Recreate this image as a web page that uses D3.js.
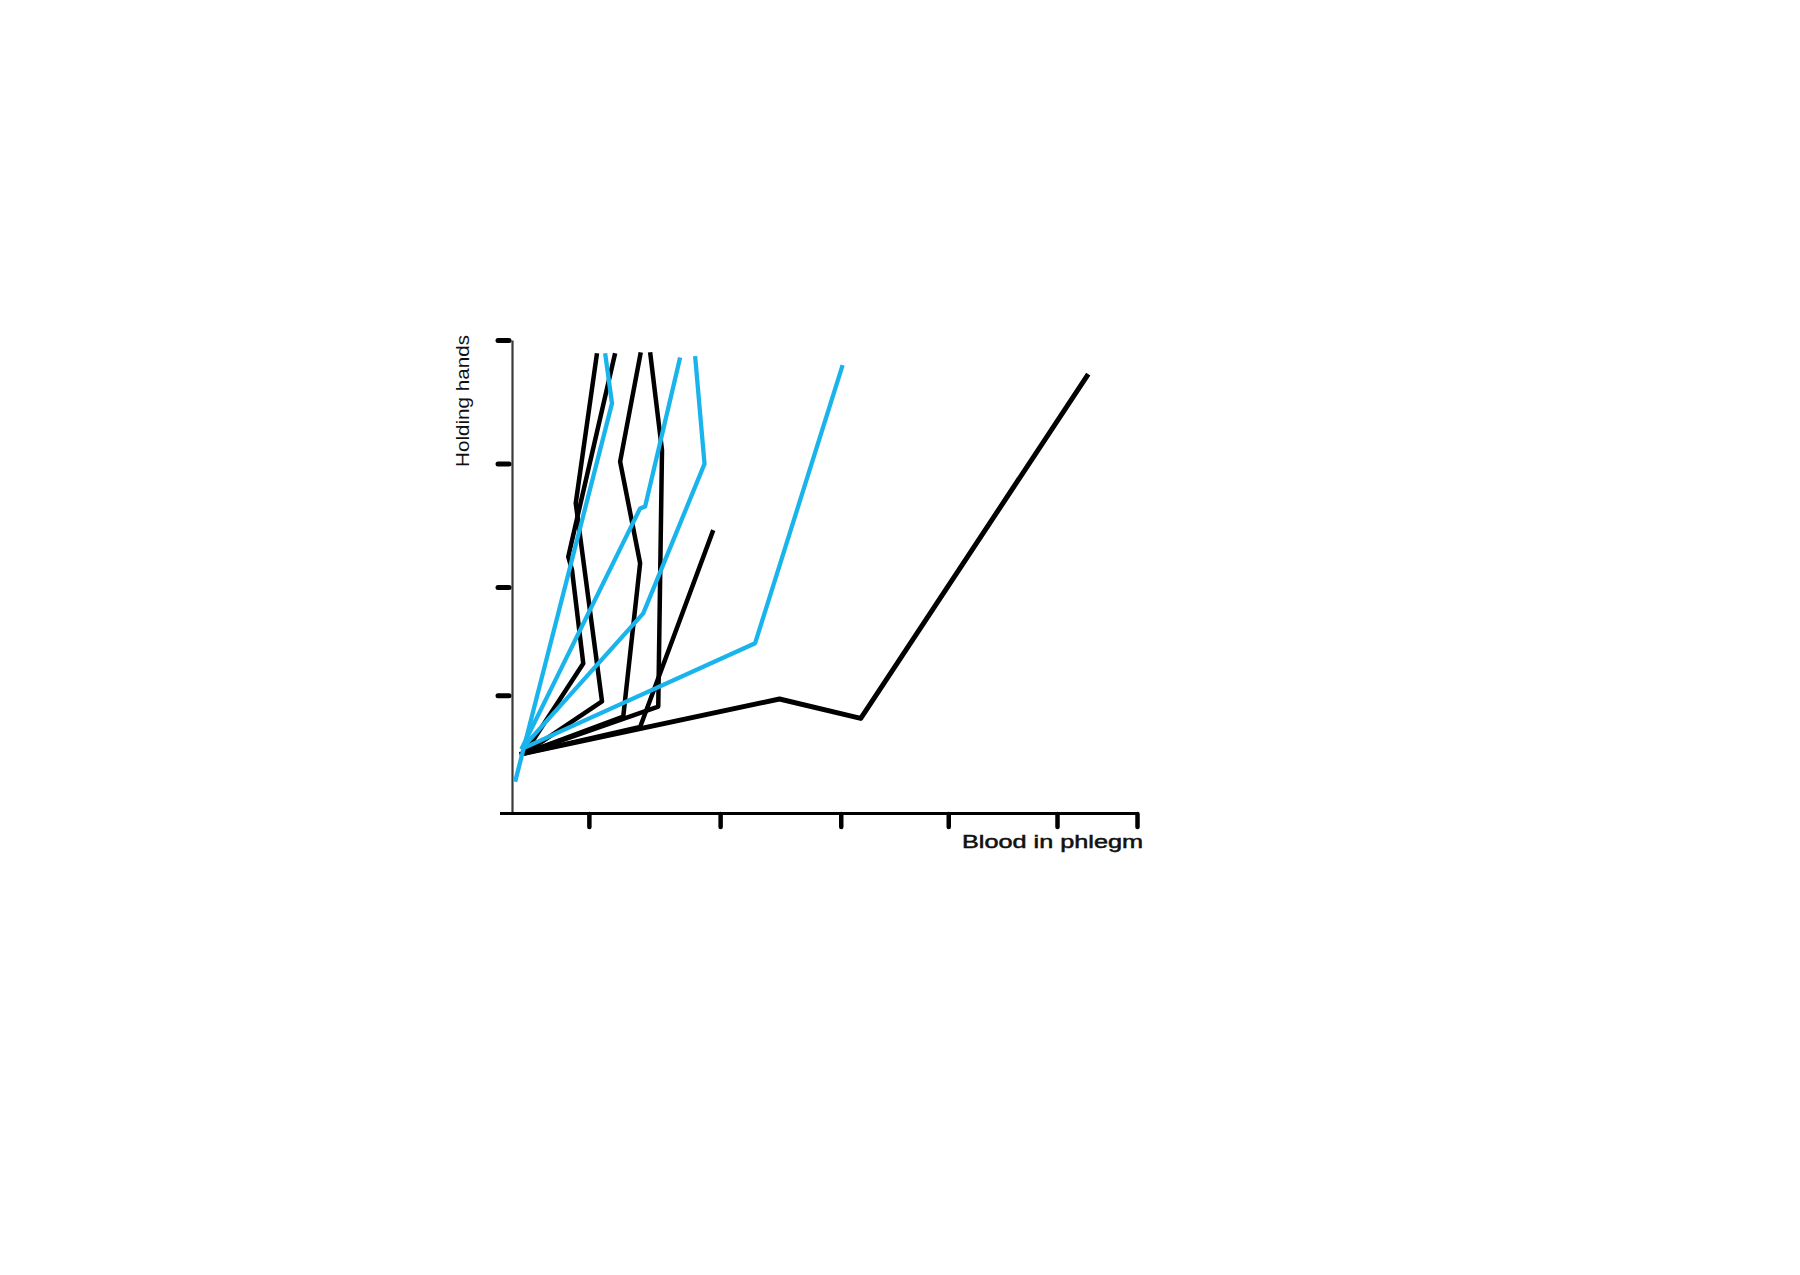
<!DOCTYPE html>
<html>
<head>
<meta charset="utf-8">
<script src="https://cdn.jsdelivr.net/npm/d3@7"></script>
<style>
  body { margin: 0; background: #fff; }
  svg { display: block; }
  text { font-family: "Liberation Sans", Arial, sans-serif; fill: #111; }
</style>
</head>
<body>
<svg width="1800" height="1275"></svg>
<script>
// tick positions (no labels on the original)
var xTicks = [1.23, 3.33, 5.26, 6.98, 8.72, 10];
var yTicks = [2.49, 4.78, 7.39, 10];

// black series
var black1 = [[0.2, 1.26], [1.44, 2.36], [1.02, 6.55], [1.36, 9.72]];
var black2 = [[0.2, 1.26], [1.14, 3.16], [0.96, 5.14], [0.90, 5.42], [1.65, 9.72]];
var black3 = [[0.2, 1.26], [1.78, 2.04], [2.05, 5.28], [1.73, 7.43], [2.06, 9.74]];
var black4 = [[0.2, 1.26], [2.34, 2.25], [2.40, 7.67], [2.21, 9.74]];
var black5 = [[0.2, 1.26], [2.05, 1.82], [3.22, 5.98]];
var black6 = [[0.12, 1.24], [4.28, 2.41], [5.58, 2.00], [9.22, 9.28]];

// blue series
var blue1 = [[0.05, 0.66], [1.60, 8.66], [1.49, 9.72]];
var blue2 = [[0.15, 1.35], [2.05, 6.44], [2.13, 6.48], [2.69, 9.63]];
var blue3 = [[0.15, 1.35], [2.10, 4.22], [3.08, 7.38], [2.93, 9.66]];
var blue4 = [[0.15, 1.35], [3.89, 3.59], [5.29, 9.47]];

var blackLines = [black1, black2, black3, black4, black5, black6];
var blueLines = [blue1, blue2, blue3, blue4];

var svg = d3.select("svg");

var x = d3.scaleLinear().domain([-0.2, 10]).range([499.5, 1137]);
var y = d3.scaleLinear().domain([0, 10]).range([813, 340]);

var line = d3.line()
  .x(function(d) { return x(d[0]); })
  .y(function(d) { return y(d[1]); });

// y axis: thin grey line, short fat dashes for ticks
var yAxis = svg.append("g")
  .attr("transform", "translate(" + x(0) + ",0)")
  .call(d3.axisLeft(y).tickValues(yTicks).tickSize(14).tickSizeOuter(0).tickFormat(""));
yAxis.select(".domain")
  .attr("stroke", "#3a3a3a")
  .attr("stroke-width", 2.2);
yAxis.selectAll(".tick line")
  .attr("stroke", "#000")
  .attr("stroke-width", 5)
  .attr("stroke-linecap", "round")
  .attr("x1", -3);

// x axis
var xAxis = svg.append("g")
  .attr("transform", "translate(0," + y(0) + ")")
  .call(d3.axisBottom(x).tickValues(xTicks).tickSize(14).tickSizeOuter(0).tickFormat(""));
xAxis.select(".domain")
  .attr("stroke", "#000")
  .attr("stroke-width", 3);
xAxis.selectAll(".tick line")
  .attr("stroke", "#000")
  .attr("stroke-width", 4.5)
  .attr("stroke-linecap", "round")
  .attr("y1", 1);

// the lines, black under blue
svg.append("g").selectAll("path")
  .data(blackLines)
  .enter()
  .append("path")
  .attr("fill", "none")
  .attr("stroke", "#000")
  .attr("stroke-width", function(d, i) { return i == 5 ? 5 : 4.5; })
  .attr("stroke-linejoin", "round")
  .attr("d", line);

svg.append("g").selectAll("path")
  .data(blueLines)
  .enter()
  .append("path")
  .attr("fill", "none")
  .attr("stroke", "#1ab4ec")
  .attr("stroke-width", 4.3)
  .attr("stroke-linejoin", "round")
  .attr("d", line);

// axis titles
svg.append("text")
  .attr("transform", "translate(469,401) rotate(-90)")
  .style("text-anchor", "middle")
  .style("font-size", "18px")
  .attr("textLength", 132)
  .attr("lengthAdjust", "spacingAndGlyphs")
  .text("Holding hands");

svg.append("text")
  .attr("x", 962)
  .attr("y", 848)
  .style("font-size", "18px")
  .style("stroke", "#111")
  .style("stroke-width", 0.5)
  .attr("textLength", 181)
  .attr("lengthAdjust", "spacingAndGlyphs")
  .text("Blood in phlegm");
</script>
</body>
</html>
